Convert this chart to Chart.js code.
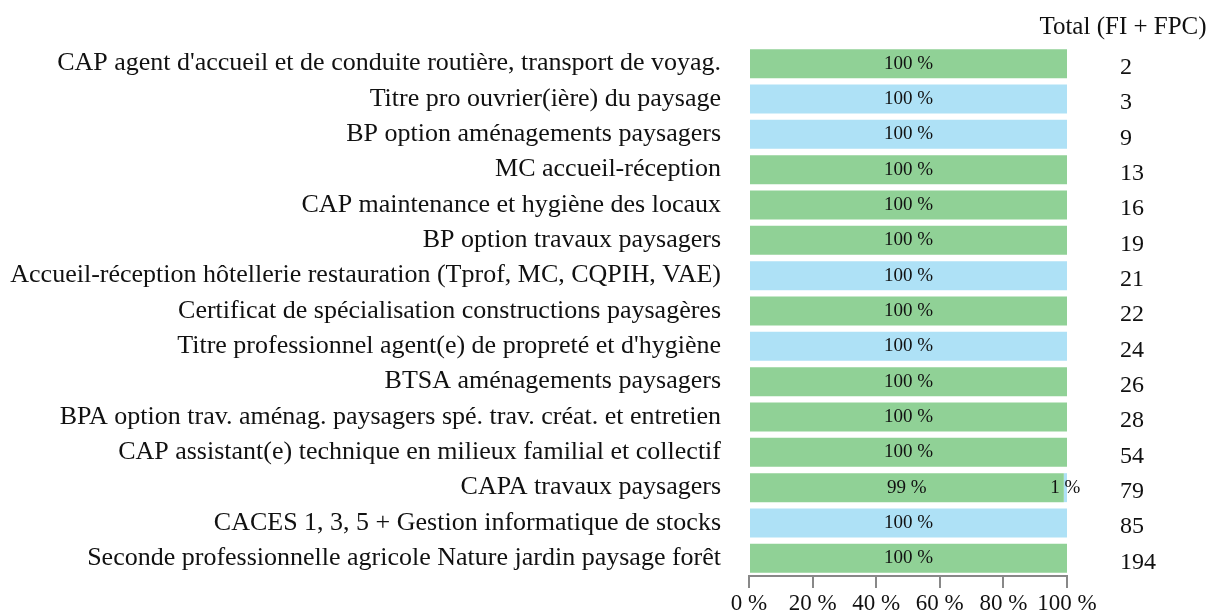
<!DOCTYPE html>
<html>
<head>
<meta charset="utf-8">
<script src="https://cdn.jsdelivr.net/npm/chart.js@4/dist/chart.umd.min.js"></script>
<style>
  html, body { margin: 0; padding: 0; background: #fff; }
  #wrap { width: 1215px; height: 611px; position: relative; }
</style>
</head>
<body>
<div id="wrap"><canvas id="chart"></canvas></div>
<script>
const categories = [
  "CAP agent d'accueil et de conduite routière, transport de voyag.",
  "Titre pro ouvrier(ière) du paysage",
  "BP option aménagements paysagers",
  "MC accueil-réception",
  "CAP maintenance et hygiène des locaux",
  "BP option travaux paysagers",
  "Accueil-réception hôtellerie restauration (Tprof, MC, CQPIH, VAE)",
  "Certificat de spécialisation constructions paysagères",
  "Titre professionnel agent(e) de propreté et d'hygiène",
  "BTSA aménagements paysagers",
  "BPA option trav. aménag. paysagers spé. trav. créat. et entretien",
  "CAP assistant(e) technique en milieux familial et collectif",
  "CAPA travaux paysagers",
  "CACES 1, 3, 5 + Gestion informatique de stocks",
  "Seconde professionnelle agricole Nature jardin paysage forêt"
];
const fiShare  = [100, 0, 0, 100, 100, 100, 0, 100, 0, 100, 100, 100, 99, 0, 100];
const fpcShare = [0, 100, 100, 0, 0, 0, 100, 0, 100, 0, 0, 0, 1, 100, 0];
const totals = [2, 3, 9, 13, 16, 19, 21, 22, 24, 26, 28, 54, 79, 85, 194];
const xTicks = [0, 20, 40, 60, 80, 100];

const serif = "'Liberation Serif', 'DejaVu Serif', serif";

// labels inside bars + totals column on the right
const labelsPlugin = {
  id: 'labelsPlugin',
  afterDatasetsDraw(chart) {
    const ctx = chart.ctx;
    ctx.save();
    ctx.fillStyle = '#111';
    ctx.font = '19px ' + serif;
    ctx.textAlign = 'center';
    ctx.textBaseline = 'middle';
    chart.data.datasets.forEach((ds, i) => {
      const meta = chart.getDatasetMeta(i);
      meta.data.forEach((bar, j) => {
        const v = ds.data[j];
        if (!v) return;
        const x = (bar.base + bar.x) / 2;
        ctx.fillText(v + ' %', x, bar.y);
      });
    });
    const y = chart.scales.y;
    ctx.font = '24px ' + serif;
    ctx.textAlign = 'left';
    totals.forEach((t, j) => {
      ctx.fillText(String(t), 1120, y.getPixelForValue(j) + 4);
    });
    ctx.font = '25px ' + serif;
    ctx.textAlign = 'center';
    ctx.fillText('Total (FI + FPC)', 1123, 27);
    ctx.restore();
  }
};

new Chart(document.getElementById('chart'), {
  type: 'bar',
  data: {
    labels: categories,
    datasets: [
      { label: 'FI', data: fiShare, backgroundColor: '#90d196', categoryPercentage: 1, barPercentage: 0.82 },
      { label: 'FPC', data: fpcShare, backgroundColor: '#aee1f6', categoryPercentage: 1, barPercentage: 0.82 }
    ]
  },
  options: {
    indexAxis: 'y',
    responsive: true,
    maintainAspectRatio: false,
    animation: false,
    layout: { padding: { left: 0, right: 148, top: 46, bottom: 0 } },
    plugins: {
      legend: { display: false },
      tooltip: { enabled: false }
    },
    scales: {
      x: {
        stacked: true,
        min: 0,
        max: 100,
        afterBuildTicks(scale) { scale.ticks = xTicks.map(v => ({ value: v })); },
        afterFit(scale) { scale.height = 35; },
        border: { display: true, color: '#888', width: 2 },
        grid: { drawOnChartArea: false, drawTicks: true, tickLength: 12, color: '#888', lineWidth: 2 },
        ticks: {
          color: '#111',
          font: { family: serif, size: 23 },
          padding: 2,
          maxRotation: 0,
          autoSkip: false,
          callback: v => v + ' %'
        }
      },
      y: {
        stacked: true,
        afterFit(scale) {
          scale.width = 749;
          scale.paddingTop = 0;
          scale.paddingBottom = 0;
        },
        border: { display: false },
        grid: { display: false },
        ticks: {
          color: '#111',
          font: { family: serif, size: 26 },
          padding: 20,
          autoSkip: false
        }
      }
    }
  },
  plugins: [labelsPlugin]
});
</script>
</body>
</html>
